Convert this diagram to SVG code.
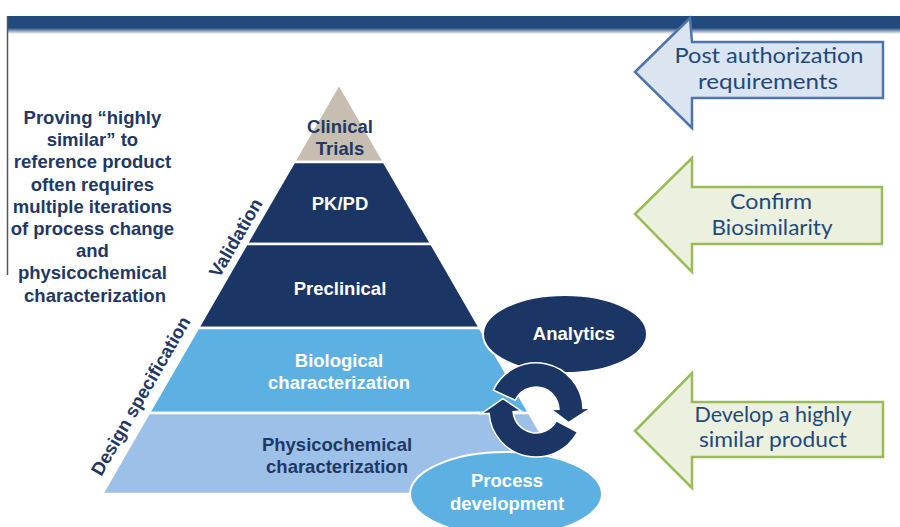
<svg xmlns="http://www.w3.org/2000/svg" width="900" height="527" viewBox="0 0 900 527">
<defs>
<linearGradient id="fade" x1="0" y1="0" x2="0" y2="1">
<stop offset="0" stop-color="#214b7d"/>
<stop offset="1" stop-color="#ffffff"/>
</linearGradient>
</defs>
<style>
.lbl{font-family:"Liberation Sans",Arial,sans-serif;font-weight:bold;text-anchor:middle;font-size:18.5px}
.w{fill:#ffffff}
.n{fill:#1f3864}
.cal{font-family:Lato,"Liberation Sans",sans-serif;fill:#1f497d;font-size:22px}
.band{stroke:#ffffff;stroke-width:2.5}
.ga{fill:#ebf1de;stroke:#9bbb59;stroke-width:2.5}
.ba{fill:#dbe5f1;stroke:#4f75a8;stroke-width:2.5}
.cyc{fill:#1b3564;stroke:#ffffff;stroke-width:1.5}
</style>
<rect width="900" height="527" fill="#ffffff"/>
<g id="header">
<rect x="7" y="16" width="893" height="12" fill="#214b7d"/>
<rect x="7" y="28" width="893" height="6" fill="url(#fade)"/>
<line x1="7.5" y1="16" x2="7.5" y2="275" stroke="#555555" stroke-width="1.5"/>
</g>
<g id="note">
<text class="lbl n">
<tspan x="95" y="124">Proving “highly</tspan>
<tspan x="95" y="146.2">similar” to</tspan>
<tspan x="95" y="168.4">reference product</tspan>
<tspan x="95" y="190.6">often requires</tspan>
<tspan x="95" y="212.8">multiple iterations</tspan>
<tspan x="95" y="235">of process change</tspan>
<tspan x="95" y="257.2">and</tspan>
<tspan x="95" y="279.4">physicochemical</tspan>
<tspan x="95" y="301.6">characterization</tspan>
</text>
</g>
<g id="clinical-trials">
<polygon class="band" points="339,84 384,162 294,162" fill="#c7bdb0"/>
<text class="lbl n"><tspan x="340" y="133">Clinical</tspan><tspan x="340" y="155">Trials</tspan></text>
</g>
<g id="pk-pd">
<polygon class="band" points="294,162 384,162 431.5,244 246.5,244" fill="#1b3564"/>
<text class="lbl w" x="340" y="210">PK/PD</text>
</g>
<g id="preclinical">
<polygon class="band" points="246.5,244 431.5,244 480,328 198,328" fill="#1b3564"/>
<text class="lbl w" x="340" y="295">Preclinical</text>
</g>
<g id="biological">
<polygon class="band" points="198,328 480,328 529.2,413 148.8,413" fill="#5db1e2"/>
<text class="lbl w"><tspan x="339" y="367">Biological</tspan><tspan x="339" y="389">characterization</tspan></text>
</g>
<g id="physicochemical">
<polygon class="band" points="148.8,413 529.2,413 576,494 102,494" fill="#9cc0e7"/>
<text class="lbl n"><tspan x="337" y="451">Physicochemical</tspan><tspan x="337" y="473">characterization</tspan></text>
</g>
<g id="validation">
<text class="lbl n" transform="translate(236,238) rotate(-60)" x="0" y="6">Validation</text>
</g>
<g id="design-specification">
<text class="lbl n" transform="translate(141,396) rotate(-60)" x="0" y="6">Design specification</text>
</g>
<g id="analytics">
<ellipse cx="565" cy="334" rx="82" ry="39" fill="#1b3564" stroke="#ffffff" stroke-width="2"/>
<text class="lbl w" x="574" y="340">Analytics</text>
</g>
<g id="process-development">
<ellipse cx="506" cy="494" rx="96" ry="42" fill="#5db1e2" stroke="#ffffff" stroke-width="2"/>
<text class="lbl w"><tspan x="507" y="487">Process</tspan><tspan x="507" y="510">development</tspan></text>
</g>
<g id="connectors">
<path class="cyc" d="M493.4,390.1 A47,47 0 0 1 583.0,408.4 L591.0,408.1 L568.7,422.5 L551.0,409.4 L559.0,409.2 A23,23 0 0 0 515.2,400.3 Z"/>
<path class="cyc" d="M577.5,432.1 A47,47 0 0 1 489.1,413.3 L481.1,413.9 L502.9,398.6 L521.0,411.0 L513.1,411.6 A23,23 0 0 0 556.3,420.8 Z"/>
</g>
<g id="post-authorization">
<polygon class="ba" points="635,72 690,18 692,42 883,42 883,98 692,98 692,128"/>
<text class="cal" x="769" y="63" text-anchor="middle" textLength="189" lengthAdjust="spacingAndGlyphs">Post authorization</text>
<text class="cal" x="768" y="89" text-anchor="middle" textLength="140" lengthAdjust="spacingAndGlyphs">requirements</text>
</g>
<g id="confirm-biosimilarity">
<polygon class="ga" points="635,214 692,158 692,187 882,187 882,244 692,244 692,272"/>
<text class="cal" x="771" y="209" text-anchor="middle" textLength="82" lengthAdjust="spacingAndGlyphs">Confirm</text>
<text class="cal" x="772" y="235" text-anchor="middle" textLength="121" lengthAdjust="spacingAndGlyphs">Biosimilarity</text>
</g>
<g id="develop-product">
<polygon class="ga" points="635,431 692,373 692,402 883,402 883,457 692,457 692,488"/>
<text class="cal" x="773" y="422" text-anchor="middle" textLength="157" lengthAdjust="spacingAndGlyphs">Develop a highly</text>
<text class="cal" x="773" y="447" text-anchor="middle" textLength="148" lengthAdjust="spacingAndGlyphs">similar product</text>
</g>
</svg>
